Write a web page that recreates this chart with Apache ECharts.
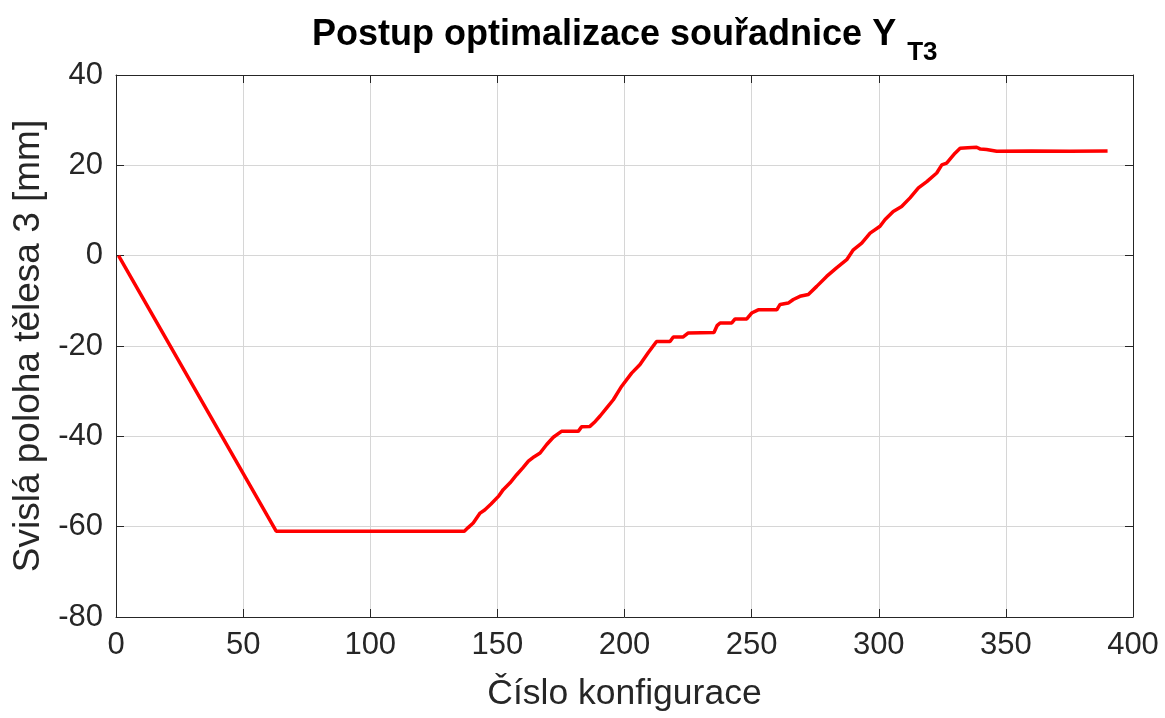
<!DOCTYPE html>
<html>
<head>
<meta charset="utf-8">
<script src="https://cdn.jsdelivr.net/npm/echarts@6/dist/echarts.min.js"></script>
<style>
  html, body { margin: 0; padding: 0; background: #fff; }
  #chart { width: 1165px; height: 718px; }
</style>
</head>
<body>
<div id="chart"></div>
<script>
// Configuration number (x) and vertical position of body 3 in mm (y)
const configIndex = [
  1, 63, 137, 138.5, 140.5, 143.2, 145, 147.5, 150.4, 152.3, 155, 157.6, 160, 162.2,
  164.5, 166.8, 169.4, 172, 175.2, 181.8, 183.1, 186.4, 188.5, 190.4, 193, 195.6,
  198.9, 202.8, 206.1, 209.3, 212.6, 217.9, 219.2, 223.1, 225.1, 235.2, 236.4, 237.6,
  242.2, 243.5, 248.1, 250, 252.6, 259.9, 261.2, 264.4, 266.4, 269, 272.3, 275.6,
  279.5, 283.4, 287.4, 290, 293.3, 296.6, 300.5, 302.5, 305.7, 309, 312.3, 315.6,
  318.9, 322.8, 324.8, 326.7, 330, 332, 335, 338.5, 340, 342.4, 346.4, 360, 375, 390
];
const verticalPos = [
  0, -61, -61, -60.2, -59.2, -57, -56.3, -55, -53.3, -51.8, -50.3, -48.5, -47, -45.5,
  -44.5, -43.7, -41.8, -40.2, -38.9, -38.9, -37.9, -37.8, -36.7, -35.5, -33.7, -31.9,
  -28.9, -26, -24.1, -21.5, -19, -19, -18, -18, -17.1, -17, -15.5, -14.9,
  -14.9, -14, -14, -12.7, -12, -12, -10.8, -10.5, -9.7, -9, -8.6, -6.8,
  -4.6, -2.7, -0.9, 1.3, 2.8, 5, 6.5, 8, 9.8, 10.9, 12.8, 15,
  16.4, 18.3, 20.1, 20.5, 22.7, 23.8, 23.9, 24, 23.6, 23.5, 23.1, 23.2, 23.1, 23.2
];
const xTicks = { min: 0, max: 400, step: 50 };
const yTicks = { min: -80, max: 40, step: 20 };

const seriesData = configIndex.map((x, i) => [x, verticalPos[i]]);

const FONT = '"Liberation Sans", Arial, Helvetica, sans-serif';
const AXIS_COLOR = '#262626';
const GRID_COLOR = '#d6d6d6';

const chart = echarts.init(document.getElementById('chart'), null, { renderer: 'canvas' });

const boxAxis = {
  axisLine: { show: true, onZero: false, lineStyle: { color: AXIS_COLOR, width: 1 } },
  axisTick: { show: true, inside: true, length: 8, lineStyle: { color: AXIS_COLOR } },
  axisLabel: { show: false },
  splitLine: { show: false }
};

chart.setOption({
  animation: false,
  backgroundColor: '#ffffff',
  title: {
    text: '{a|Postup optimalizace souřadnice Y}{b|T3}',
    left: 307,
    top: 12,
    textStyle: {
      rich: {
        a: { fontFamily: FONT, fontWeight: 'bold', fontSize: 36, color: '#000', verticalAlign: 'top', lineHeight: 38 },
        b: { fontFamily: FONT, fontWeight: 'bold', fontSize: 26, color: '#000', verticalAlign: 'top', lineHeight: 28, padding: [23, 0, 0, 11] }
      }
    }
  },
  grid: { left: 116, right: 32, top: 75, bottom: 101, containLabel: false, outerBoundsMode: 'none' },
  xAxis: [
    {
      type: 'value',
      min: xTicks.min, max: xTicks.max, interval: xTicks.step,
      name: 'Číslo konfigurace',
      nameLocation: 'middle',
      nameGap: 59,
      nameTextStyle: { fontFamily: FONT, fontSize: 35.5, color: AXIS_COLOR },
      axisLine: { show: true, onZero: false, lineStyle: { color: AXIS_COLOR, width: 1 } },
      axisTick: { show: true, inside: true, length: 8, lineStyle: { color: AXIS_COLOR } },
      axisLabel: { fontFamily: FONT, fontSize: 31, color: AXIS_COLOR, margin: 13 },
      splitLine: { show: true, lineStyle: { color: GRID_COLOR, width: 1 } }
    },
    Object.assign({ type: 'value', position: 'top', min: xTicks.min, max: xTicks.max, interval: xTicks.step }, boxAxis)
  ],
  yAxis: [
    {
      type: 'value',
      min: yTicks.min, max: yTicks.max, interval: yTicks.step,
      name: 'Svislá poloha tělesa 3 [mm]',
      nameLocation: 'middle',
      nameGap: 67,
      nameRotate: 90,
      nameTextStyle: { fontFamily: FONT, fontSize: 37, color: AXIS_COLOR },
      axisLine: { show: true, onZero: false, lineStyle: { color: AXIS_COLOR, width: 1 } },
      axisTick: { show: true, inside: true, length: 8, lineStyle: { color: AXIS_COLOR } },
      axisLabel: { fontFamily: FONT, fontSize: 31, color: AXIS_COLOR, margin: 13 },
      splitLine: { show: true, lineStyle: { color: GRID_COLOR, width: 1 } }
    },
    Object.assign({ type: 'value', position: 'right', min: yTicks.min, max: yTicks.max, interval: yTicks.step }, boxAxis)
  ],
  series: [
    {
      type: 'line',
      data: seriesData,
      showSymbol: false,
      lineStyle: { color: '#ff0000', width: 3.5 },
      itemStyle: { color: '#ff0000' },
      z: 5
    }
  ]
});
</script>
</body>
</html>
